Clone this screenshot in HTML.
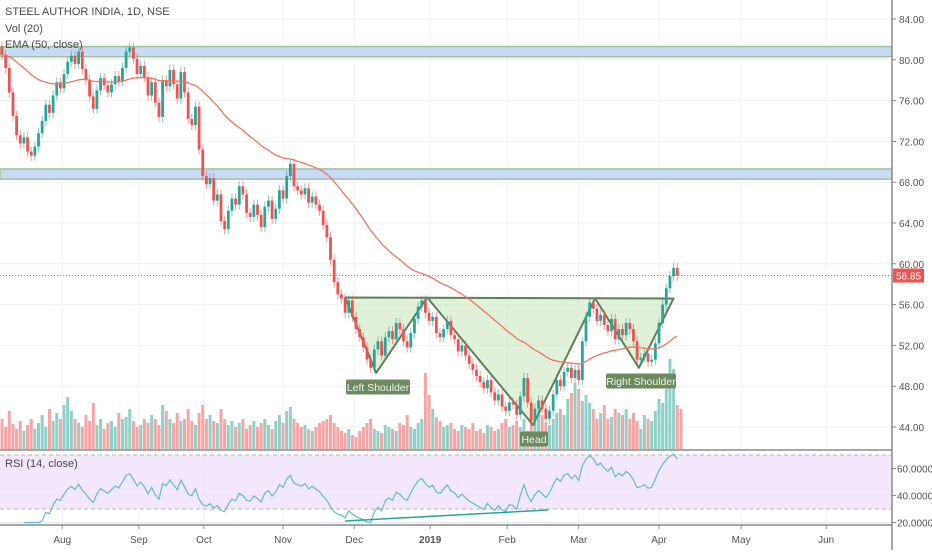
<!DOCTYPE html>
<html><head><meta charset="utf-8"><style>
body{margin:0;background:#fff;width:932px;height:550px;overflow:hidden;font-family:"Liberation Sans",sans-serif}
svg text{font-family:"Liberation Sans",sans-serif}
</style></head><body>
<svg id="c" width="932" height="550" xmlns="http://www.w3.org/2000/svg"></svg>
<script>
const closes=[80.5,79.2,76.8,74.5,72.6,71.8,72.4,71.0,70.6,71.5,
72.8,74.0,75.6,74.8,76.5,77.8,77.2,78.6,79.8,80.4,
79.6,80.8,79.1,78.0,76.4,75.2,77.0,78.2,77.5,76.8,
77.6,78.4,77.9,79.2,80.8,81.2,80.1,78.6,79.4,78.3,
76.5,77.8,75.8,74.4,78.0,77.4,79.0,77.6,76.2,78.8,
76.8,74.2,73.6,75.4,71.2,68.6,67.8,68.4,66.2,66.8,
64.2,63.4,65.2,66.4,65.8,67.6,66.8,65.0,64.6,65.8,
64.8,63.6,65.6,66.2,64.4,65.4,67.2,66.4,68.6,69.8,
67.6,67.2,66.8,67.4,66.0,66.6,65.8,65.2,63.8,62.6,
60.4,58.2,57.0,56.6,55.2,56.4,54.8,53.6,52.8,51.8,
50.6,49.8,51.6,52.4,51.0,52.8,53.4,52.6,54.2,53.6,
52.4,51.8,53.2,54.6,55.8,56.4,55.2,54.4,54.8,53.2,
52.8,53.6,54.4,53.0,52.6,51.4,52.0,51.0,50.2,49.6,
49.0,48.4,47.8,48.6,47.4,46.6,47.2,46.0,45.6,46.4,
46.2,45.2,47.0,48.8,46.4,44.6,45.8,46.6,45.8,44.8,
45.6,47.2,48.6,48.0,49.4,49.8,48.8,49.6,48.6,52.4,
54.8,56.2,55.6,54.4,55.0,54.0,53.4,54.6,52.6,53.6,
53.0,54.2,53.6,52.4,50.6,50.8,51.2,50.4,50.6,52.2,
54.2,56.0,57.6,58.8,59.6,58.85];
const volumes=[30,22,38,25,20,28,18,24,30,20,
26,34,22,40,28,36,30,44,52,38,
30,26,22,34,28,46,24,30,20,26,
28,22,36,30,32,40,28,22,24,30,
26,34,30,24,44,38,30,26,36,28,
30,40,28,24,36,44,30,34,28,26,
40,30,24,28,22,26,30,20,24,28,
22,26,30,24,20,28,34,26,38,42,
30,26,22,24,20,18,22,26,28,30,
34,26,22,18,16,20,14,12,18,22,
26,30,20,18,16,24,22,20,18,26,
24,34,22,20,26,30,76,54,40,32,
28,22,24,26,20,18,24,22,20,26,
18,20,16,24,22,18,20,26,30,22,
24,28,22,30,18,26,32,40,34,26,
24,30,36,40,34,50,56,66,60,48,
54,46,40,30,36,44,30,32,40,36,
34,40,30,36,28,20,34,30,28,38,
50,46,60,90,80,44,40];
const priceTicks=[84,80,76,72,68,64,60,56,52,48,44];
const rsiTicks=[60,40,20];
const monthLabels=["Aug","Sep","Oct","Nov","Dec","2019","Feb","Mar","Apr","May","Jun"];
const monthIdx=[16.5,37.5,55.3,77,96.5,117.3,138.4,158,180,202.5,225.8];
const bands=[[80.3,81.3],[68.3,69.3]];
const patternPts=[[94,56.7],[102.5,49.3],[116.5,56.7],[145.5,44.2],[162.5,56.6],[174.5,49.8],[184,56.6]];
const lastPrice=58.85;

const NS="http://www.w3.org/2000/svg",svg=document.getElementById('c');
function el(t,a,p){const e=document.createElementNS(NS,t);for(const k in a)e.setAttribute(k,a[k]);(p||svg).appendChild(e);return e;}
const PW=892;
const X=i=>2+i*3.65;
const Y=p=>19+(84-p)*10.2;
const R=v=>468.5+(60-v)*1.35;
const VB=449, VS=1.0;

const g=el('g',{});

monthIdx.forEach(m=>{el('line',{x1:X(m),x2:X(m),y1:0,y2:525,stroke:'#eef1f6'},g);});
priceTicks.forEach(p=>{el('line',{x1:0,x2:PW,y1:Y(p),y2:Y(p),stroke:'#eef1f6'},g);});
rsiTicks.forEach(v=>{el('line',{x1:0,x2:PW,y1:R(v),y2:R(v),stroke:'#e4e6ef'},g);});

bands.forEach((b,i)=>{const r=el('rect',{x:0,y:Y(b[1]),width:PW,height:Y(b[0])-Y(b[1]),fill:'#c8daf5',stroke:'#9cc49a','stroke-width':1.5});
});

const vg=el('g',{});
volumes.forEach((v,i)=>{const up=i>0?closes[i]>=closes[i-1]:false;const h=v*VS;
const r=el('rect',{x:X(i)-1.5,y:VB-h,width:3,height:h,fill:up?'#8fd1c8':'#f5a5a3'},vg);
});

const pts=patternPts.map(p=>X(p[0])+','+Y(p[1])).join(' ');
const poly=el('polygon',{points:pts,fill:'#cfe8c4','fill-opacity':0.65,stroke:'#5f7f57','stroke-width':2,'stroke-linejoin':'round'});


const cg=el('g',{});
closes.forEach((c,i)=>{const o=i>0?closes[i-1]:c+0.8;const up=c>=o;const col=up?'#26a69a':'#ef5350';
const hi=Math.max(o,c)+0.5,lo=Math.min(o,c)-0.5;
el('line',{x1:X(i),x2:X(i),y1:Y(hi),y2:Y(lo),stroke:col,'stroke-opacity':0.6},cg);
const r=el('rect',{x:X(i)-1.4,y:Y(Math.max(o,c)),width:2.8,height:Math.max(1,Math.abs(Y(o)-Y(c))),fill:col},cg);
});

let e=closes[0],k=2/51,ed=[];closes.forEach((c,i)=>{e=i?c*k+e*(1-k):c;ed.push(X(i)+','+Y(e));});
const ema=el('polyline',{points:ed.join(' '),fill:'none',stroke:'#f0765b','stroke-width':1.3});


el('line',{x1:0,x2:PW,y1:Y(lastPrice),y2:Y(lastPrice),stroke:'#ef5350','stroke-dasharray':'1,2'});

function lab(t,cx,cy,w,name){const gg=el('g',{});
el('rect',{x:cx-w/2,y:cy-7.5,width:w,height:15,rx:2,fill:'#6b8a5e'},gg);
const tx=el('text',{x:cx,y:cy+4,'text-anchor':'middle','font-size':10.5,fill:'#f2f2f2'},gg);tx.textContent=t;}
lab('Left Shoulder',378,387,64,'left-shoulder-label');
lab('Head',534,439,28,'head-label');
lab('Right Shoulder',641,381,70,'right-shoulder-label');

el('line',{x1:0,x2:932,y1:450,y2:450,stroke:'#8a8a8a','stroke-width':1.5});
const rb=el('rect',{x:0,y:R(70),width:PW,height:R(30)-R(70),fill:'#f1e3fc','fill-opacity':0.85});

[70,30].forEach(v=>el('line',{x1:0,x2:PW,y1:R(v),y2:R(v),stroke:'#b5b5b5','stroke-dasharray':'4,3'}));
let ag=0,al=0,rp=[];for(let i=1;i<closes.length;i++){const d=closes[i]-closes[i-1];const gn=Math.max(d,0),ls=Math.max(-d,0);
if(i<=6){ag+=gn/6;al+=ls/6;}else{ag=(ag*13+gn)/14;al=(al*13+ls)/14;}
const rs=al===0?100:100-100/(1+ag/al);if(i>=6)rp.push(X(i)+','+R(Math.min(80,Math.max(20,rs))));}
const rl=el('polyline',{points:rp.join(' '),fill:'none',stroke:'#5bbcd6','stroke-width':1.2});

const dl=el('line',{x1:345,y1:521,x2:548,y2:510,stroke:'#26a69a','stroke-width':1.5});

el('line',{x1:0,x2:932,y1:525,y2:525,stroke:'#8a8a8a','stroke-width':1.5});

el('rect',{x:PW,y:0,width:40,height:550,fill:'#fff'});
el('line',{x1:PW,x2:PW,y1:0,y2:550,stroke:'#8a8a8a','stroke-width':1.5});
priceTicks.forEach(p=>{el('line',{x1:PW,x2:PW+4,y1:Y(p),y2:Y(p),stroke:'#888'});
const t=el('text',{x:PW+7,y:Y(p)+4,'font-size':10,fill:'#555'});t.textContent=p.toFixed(2);
});
rsiTicks.forEach(v=>{el('line',{x1:PW,x2:PW+4,y1:R(v),y2:R(v),stroke:'#888'});
const t=el('text',{x:PW+5,y:R(v)+4,'font-size':10,fill:'#555'});t.textContent=v.toFixed(4);
});
const pl=el('g',{});
el('rect',{x:PW+1,y:Y(lastPrice)-7,width:31,height:14,fill:'#ef5350'},pl);
const lt=el('text',{x:PW+4,y:Y(lastPrice)+4,'font-size':10,fill:'#fff'},pl);lt.textContent=lastPrice.toFixed(2);
monthLabels.forEach((m,i)=>{const t=el('text',{x:X(monthIdx[i]),y:543,'text-anchor':'middle','font-size':10,fill:'#555','font-weight':m==='2019'?'bold':'normal'});
t.textContent=m;
el('line',{x1:X(monthIdx[i]),x2:X(monthIdx[i]),y1:525,y2:529,stroke:'#888'});});

[['STEEL AUTHOR INDIA, 1D, NSE',15,'chart-title'],['Vol (20)',32,'volume-legend'],['EMA (50, close)',48,'ema-legend'],['RSI (14, close)',467,'rsi-legend']].forEach(a=>{
const t=el('text',{x:5,y:a[1],'font-size':11,fill:'#4a4a4a'});t.textContent=a[0];
});
</script>
</body></html>
